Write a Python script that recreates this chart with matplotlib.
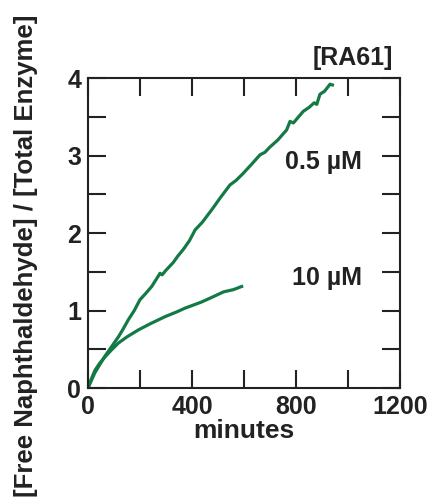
import numpy as np
import matplotlib
matplotlib.use("Agg")
import matplotlib.pyplot as plt
from matplotlib.ticker import MultipleLocator

plt.rcParams['font.family'] = ['Liberation Sans', 'DejaVu Sans']
plt.rcParams['font.weight'] = 'bold'

# 0.5 uM curve (minutes, ratio)
low_t = [0, 12, 27, 45, 65, 90, 117, 135, 155, 178, 200, 222, 245, 262, 277, 285,
         300, 328, 345, 367, 390, 412, 440, 476, 510, 546, 570, 597, 630, 662, 680,
         700, 730, 764, 777, 790, 810, 828, 850, 870, 880, 892, 910, 931, 940]
low_y = [0, 0.09, 0.20, 0.30, 0.41, 0.53, 0.66, 0.76, 0.88, 1.00, 1.14, 1.22, 1.31,
         1.40, 1.48, 1.46, 1.52, 1.62, 1.70, 1.79, 1.90, 2.04, 2.14, 2.30, 2.46, 2.62,
         2.68, 2.77, 2.89, 3.01, 3.04, 3.11, 3.20, 3.33, 3.44, 3.42, 3.50, 3.57, 3.62,
         3.68, 3.66, 3.79, 3.83, 3.92, 3.91]

# 10 uM curve
high_t = [0, 12, 27, 45, 65, 90, 117, 150, 194, 240, 296, 340, 373, 405, 437, 470,
          521, 560, 591]
high_y = [0, 0.11, 0.23, 0.32, 0.40, 0.49, 0.58, 0.66, 0.75, 0.83, 0.92, 0.98, 1.03,
          1.07, 1.11, 1.16, 1.24, 1.27, 1.31]

green = '#137a45'
ink = '#222222'

fig = plt.figure(figsize=(4.31, 4.98), dpi=100)
ax = fig.add_axes([88 / 431, 1 - 388 / 498, 312 / 431, 310 / 498])

ax.plot(low_t, low_y, color=green, lw=2.3)
ax.plot(high_t, high_y, color=green, lw=2.3)

ax.set_xlim(0, 1200)
ax.set_ylim(0, 4)
ax.xaxis.set_major_locator(MultipleLocator(400))
ax.xaxis.set_minor_locator(MultipleLocator(200))
ax.yaxis.set_major_locator(MultipleLocator(1))
ax.yaxis.set_minor_locator(MultipleLocator(0.5))
ax.tick_params(which='both', direction='in', top=True, right=True,
               length=13, width=1.5, color=ink, labelcolor=ink, labelsize=18)
ax.tick_params(axis='x', pad=5)
ax.tick_params(axis='y', pad=5)
for s in ax.spines.values():
    s.set_linewidth(1.5)
    s.set_color(ink)

ax.set_xlabel('minutes', fontsize=19, fontweight='bold', labelpad=0, color=ink)
fig.text(26 / 431, 1 - 256 / 498, '[Free Naphthaldehyde] / [Total Enzyme]',
         rotation=90, ha='center', va='center', fontsize=18.5, fontweight='bold',
         color=ink)

ax.text(1.0 - 7 / 312, 1 + 20 / 310, '[RA61]', transform=ax.transAxes, ha='right',
        va='center', fontsize=18, fontweight='bold', color=ink)
ax.text(1054, 2.92, '0.5 µM', ha='right', va='center', fontsize=18,
        fontweight='bold', color=ink)
ax.text(1054, 1.42, '10 µM', ha='right', va='center', fontsize=18,
        fontweight='bold', color=ink)

fig.savefig('out.png', dpi=100)
